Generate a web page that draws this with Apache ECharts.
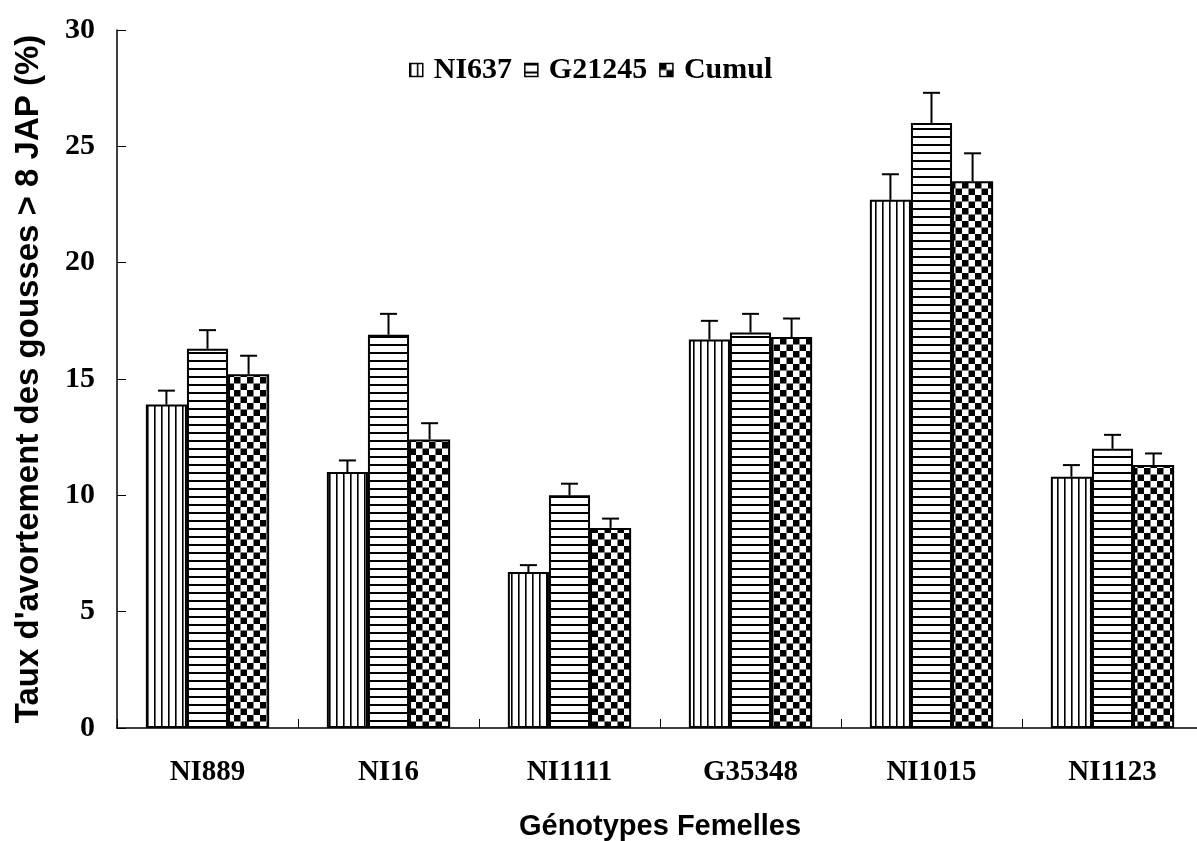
<!DOCTYPE html>
<html><head><meta charset="utf-8">
<script src="https://cdn.jsdelivr.net/npm/echarts@6/dist/echarts.min.js"></script>
<style>html,body{margin:0;padding:0;background:#fff}#c{width:1197px;height:841px}</style>
</head><body><div id="c"></div>
<script>
const categories = ['NI889','NI16','NI1111','G35348','NI1015','NI1123'];
const seriesNames = ['NI637','G21245','Cumul'];
const ni637 = [13.9, 11.0, 6.7, 16.7, 22.7, 10.8];
const g21245 = [16.3, 16.9, 10.0, 17.0, 26.0, 12.0];
const cumul = [15.2, 12.4, 8.6, 16.8, 23.5, 11.3];
const ni637Err = [0.6, 0.5, 0.3, 0.8, 1.1, 0.5];
const g21245Err = [0.8, 0.9, 0.5, 0.8, 1.3, 0.6];
const cumulErr = [0.8, 0.7, 0.4, 0.8, 1.2, 0.5];
const yTicks = [0, 5, 10, 15, 20, 25, 30];

function pat(kind){
  const c = document.createElement('canvas');
  const ctx = c.getContext('2d');
  if(kind==='v'){ c.width=7; c.height=7; ctx.fillStyle='#fff'; ctx.fillRect(0,0,7,7); ctx.fillStyle='#000'; ctx.fillRect(0,0,1.6,7); }
  else if(kind==='h'){ c.width=8; c.height=8; ctx.fillStyle='#fff'; ctx.fillRect(0,0,8,8); ctx.fillStyle='#000'; ctx.fillRect(0,0,8,2); }
  else { c.width=13; c.height=13; ctx.fillStyle='#fff'; ctx.fillRect(0,0,13,13); ctx.fillStyle='#000'; ctx.fillRect(0,0,6.5,6.5); ctx.fillRect(6.5,6.5,6.5,6.5); }
  return {image:c, repeat:'repeat'};
}
const pats = [pat('v'), pat('h'), pat('c')];
const vals = [ni637, g21245, cumul];
const errs = [ni637Err, g21245Err, cumulErr];
const BW = 0.227;

const series = [];
seriesNames.forEach((n,i)=>{
  series.push({
    name:n, type:'bar', data:vals[i], barWidth:(BW*100)+'%', barGap:'0%',
    itemStyle:{color:pats[i], borderColor:'#000', borderWidth:2}
  });
});
seriesNames.forEach((n,i)=>{
  series.push({
    type:'custom', silent:true, z:1,
    data: vals[i].map((v,k)=>[k, v, v+errs[i][k]]),
    renderItem:(params, api)=>{
      const k = api.value(0);
      const band = api.size([1,0])[0];
      const off = (i-1)*BW*band;
      const top = api.coord([k, api.value(2)]);
      const base = api.coord([k, api.value(1)]);
      const x = top[0]+off;
      const st = {stroke:'#000', lineWidth:2};
      return {type:'group', children:[
        {type:'line', shape:{x1:x,y1:base[1],x2:x,y2:top[1]}, style:st},
        {type:'line', shape:{x1:x-8.5,y1:top[1],x2:x+8.5,y2:top[1]}, style:st}
      ]};
    }
  });
});

const chart = echarts.init(document.getElementById('c'));
chart.setOption({
  animation:false,
  backgroundColor:'#fff',
  legend:{
    data:seriesNames, top:50, left:404, icon:'rect', itemWidth:13, itemHeight:13, itemGap:12,
    textStyle:{fontFamily:'Liberation Serif', fontWeight:'bold', fontSize:30, color:'#000', padding:[0,0,0,6]},
    itemStyle:{borderColor:'#000', borderWidth:1.5}
  },
  grid:{left:117, right:-6, top:30, bottom:113, containLabel:false, outerBoundsMode:'none'},
  xAxis:{
    type:'category', data:categories,
    axisLine:{lineStyle:{color:'#000', width:1.5}},
    axisTick:{show:true, inside:true, length:9, lineStyle:{color:'#000'}},
    axisLabel:{margin:30, fontFamily:'Liberation Serif', fontWeight:'bold', fontSize:29, color:'#000'},
    name:'Génotypes Femelles', nameLocation:'middle', nameGap:84,
    nameTextStyle:{fontFamily:'Liberation Sans', fontWeight:'bold', fontSize:29, color:'#000'}
  },
  yAxis:{
    type:'value', min:0, max:30, interval:5,
    axisLine:{show:true, lineStyle:{color:'#000', width:1.5}},
    axisTick:{show:true, inside:true, length:9, lineStyle:{color:'#000'}},
    splitLine:{show:false},
    axisLabel:{margin:22, fontFamily:'Liberation Serif', fontWeight:'bold', fontSize:30, color:'#000',
      formatter:v=>yTicks.includes(v)?String(v):''},
    name:"Taux d'avortement des gousses > 8 JAP (%)", nameLocation:'middle', nameGap:72,
    nameTextStyle:{fontFamily:'Liberation Sans', fontWeight:'bold', fontSize:33, color:'#000'}
  },
  series:series
});
</script></body></html>
